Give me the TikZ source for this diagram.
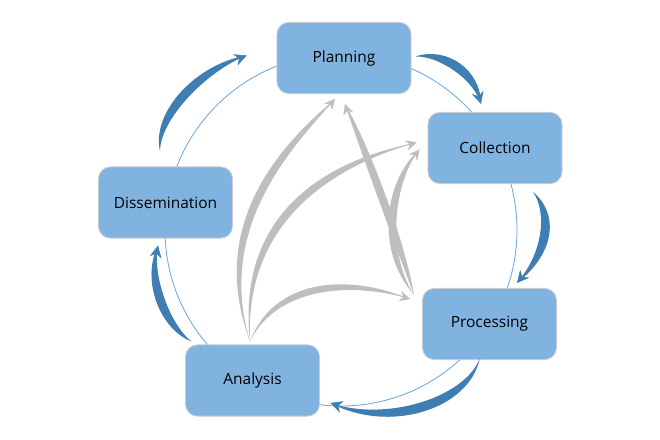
\documentclass[tikz,border=0pt]{standalone}
\usepackage{fontspec}
\setmainfont{Open Sans}
\usetikzlibrary{arrows.meta,calc}

\definecolor{boxblue}{RGB}{128,179,224}
\definecolor{boxline}{RGB}{196,204,214}
\definecolor{ringblue}{RGB}{110,168,222}
\definecolor{flowblue}{RGB}{62,126,178}
\definecolor{flowgray}{RGB}{190,190,190}

% tapered arrow: colour, start, control, control, tip, bulge, head size
\newcommand{\taperarrow}[7]{%
	\fill[#1] (#2) .. controls (#3) and (#4) .. (#5)
		.. controls ($(#4)+(#6)$) and ($(#3)+(#6)$) .. (#2) -- cycle;
	\draw[#1,-{Stealth[length=#7,width=#7]}] ($(#5)!#7!(#4)$) -- (#5);
}

\begin{document}
\begin{tikzpicture}[x=0.025cm,y=0.025cm,
	stage/.style={draw=boxline,line width=0.6pt,fill=boxblue,rounded corners=0.3cm,
		minimum width=3.35cm,minimum height=1.78cm,text=black,
		font=\fontsize{11}{13}\selectfont}]
	\useasboundingbox (0,0) rectangle (660,440);
	\coordinate (c) at (341,210);
	\draw[ringblue,line width=0.6pt] (c) circle (176);

	\node[stage] (pl) at (344,382) {Planning};
	\node[stage] (co) at (495,292) {Collection};
	\node[stage] (pr) at (489.5,116) {Processing};
	\node[stage] (an) at (252.5,59.5) {Analysis};
	\node[stage] (di) at (165.5,237.5) {Dissemination};

	% grey feedback arrows
	\coordinate (anTop) at ($(an.north)+(-2.5,3)$);
	\coordinate (prCorner) at ($(pr.north west)+(-8,-7)$);
	\coordinate (plA) at ($(pl.south)+(-9,-5)$);
	\coordinate (plB) at ($(pl.south)+(1,-10)$);
	\coordinate (coA) at ($(co.west)+(-11,5.5)$);
	\coordinate (coB) at ($(co.west)+(-8,-1.5)$);
	\coordinate (prA) at ($(pr.west)+(-12,25)$);
	\taperarrow{flowgray}{anTop}{215,215}{295,295}{plA}{-10,3.5}{0.26cm}
	\taperarrow{flowgray}{anTop}{245,210}{320,270}{coA}{-8,6.7}{0.26cm}
	\taperarrow{flowgray}{anTop}{275,150}{345,160}{prA}{-2.4,8.7}{0.26cm}
	\taperarrow{flowgray}{prCorner}{395,195}{360,290}{plB}{10,3.6}{0.26cm}
	\taperarrow{flowgray}{prCorner}{385,190}{395,260}{coB}{-10.5,0}{0.26cm}

	% blue cycle arrows
	\coordinate (plOut) at ($(pl.east)+(4,1.5)$);
	\coordinate (coIn) at ($(co.north)+(-14,8)$);
	\coordinate (coOut) at ($(co.south)+(38,-8)$);
	\coordinate (prIn) at ($(pr.north)+(27.5,5)$);
	\coordinate (prOut) at ($(pr.south)+(-9.5,2)$);
	\coordinate (anIn) at ($(an.east)+(10.5,-22.5)$);
	\coordinate (anOut) at ($(an.north west)+(6.5,3)$);
	\coordinate (diIn) at ($(di.south)+(-7.5,-7)$);
	\coordinate (diOut) at ($(di.north)+(-5.5,15)$);
	\coordinate (plIn) at ($(pl.west)+(-30,2.5)$);
	\taperarrow{flowblue}{plOut}{440,384}{474,360}{coIn}{7,10}{0.3cm}
	\taperarrow{flowblue}{coOut}{546,230}{545,190}{prIn}{12,-2}{0.3cm}
	\taperarrow{flowblue}{prOut}{465,42}{385,18}{anIn}{4,-12}{0.3cm}
	\taperarrow{flowblue}{anOut}{170,115}{152,165}{diIn}{-11,-4}{0.3cm}
	\taperarrow{flowblue}{diOut}{160,320}{205,368}{plIn}{-9,8}{0.3cm}
\end{tikzpicture}
\end{document}
